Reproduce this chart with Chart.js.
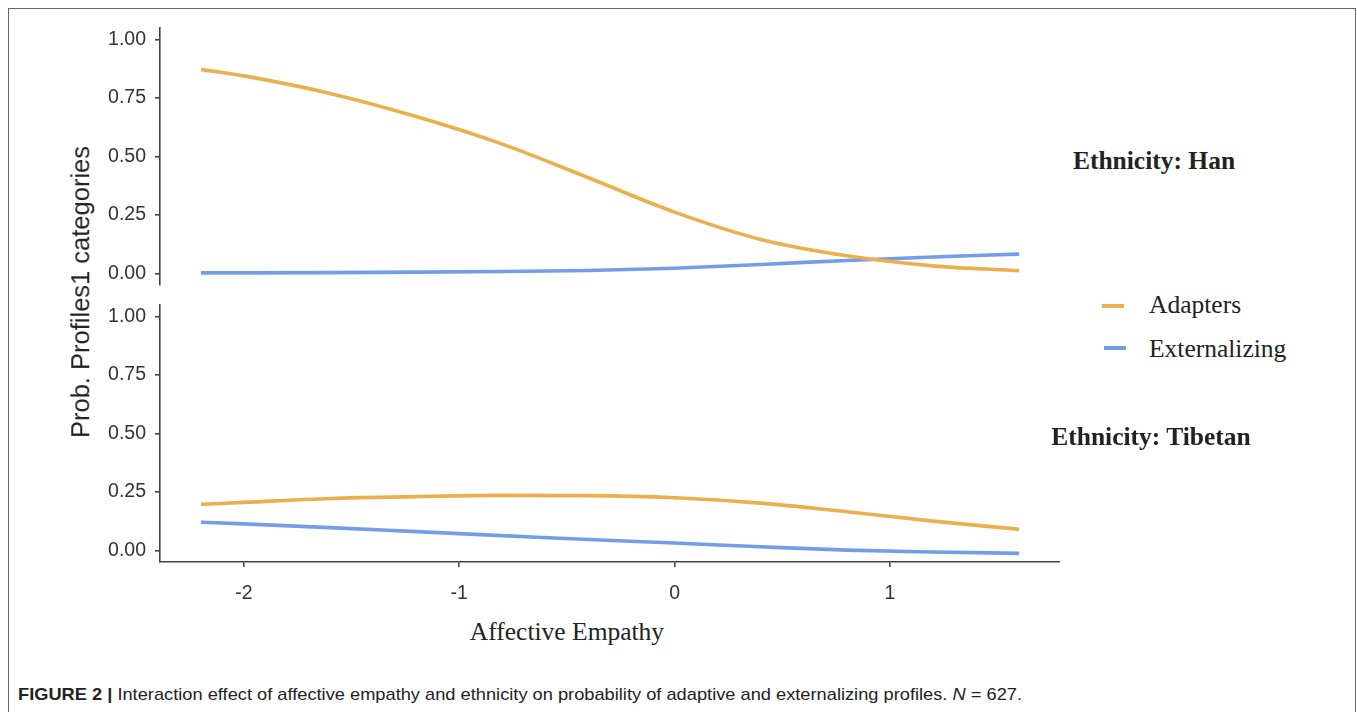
<!DOCTYPE html>
<html><head><meta charset="utf-8">
<script src="https://cdn.jsdelivr.net/npm/chart.js@4.4.0/dist/chart.umd.min.js"></script>
<style>
html,body{margin:0;padding:0;background:#fff;width:1357px;height:712px;overflow:hidden;position:relative;}
#frame{position:absolute;left:8px;top:8px;width:1348px;height:740px;border:1.5px solid #666;box-sizing:border-box;}
canvas{position:absolute;}
.t{position:absolute;white-space:nowrap;color:#222;line-height:1;transform:translate(-50%,-50%);}
.serif{font-family:"Liberation Serif","Times New Roman",serif;font-size:25.5px;}
.key{position:absolute;height:3.5px;width:22px;}
#caption{position:absolute;left:18px;top:686px;font-family:"Liberation Sans Narrow","Liberation Sans",Arial,sans-serif;font-size:17px;color:#222;white-space:nowrap;transform-origin:0 0;line-height:1.1;}
</style></head><body>
<div id="frame"></div>
<canvas id="topChart" width="1060" height="315" style="left:0;top:0"></canvas>
<canvas id="botChart" width="1060" height="327" style="left:0;top:275px"></canvas>
<div class="t" style="left:81px;top:292px;transform:translate(-50%,-50%) rotate(-90deg);font-family:'Liberation Sans',Arial,sans-serif;font-size:25.5px;">Prob. Profiles1 categories</div>
<div class="t serif" style="left:567px;top:632px;">Affective Empathy</div>
<div class="t serif" style="left:1154px;top:161px;font-weight:bold;">Ethnicity: Han</div>
<div class="t serif" style="left:1151px;top:437px;font-weight:bold;">Ethnicity: Tibetan</div>
<div id="k1" class="key" style="left:1102px;top:304px;"></div>
<div id="k2" class="key" style="left:1104px;top:346px;"></div>
<div class="serif" style="position:absolute;left:1149px;top:292px;line-height:1;color:#222;">Adapters</div>
<div class="serif" style="position:absolute;left:1149px;top:336px;line-height:1;color:#222;">Externalizing</div>
<div id="caption"><b>FIGURE 2 |</b> Interaction effect of affective empathy and ethnicity on probability of adaptive and externalizing profiles. <i>N</i> = 627.</div>
<script>
// ---- data ----
const xValues = [-2.2, -2.0, -1.6, -1.2, -0.8, -0.4, 0, 0.4, 0.8, 1.2, 1.6];
const hanAdapters = [0.873, 0.845, 0.770, 0.671, 0.553, 0.409, 0.262, 0.145, 0.075, 0.032, 0.011];
const hanExternalizing = [0.002, 0.002, 0.003, 0.005, 0.008, 0.012, 0.022, 0.038, 0.055, 0.070, 0.082];
const tibetanAdapters = [0.197, 0.205, 0.222, 0.230, 0.235, 0.234, 0.225, 0.202, 0.165, 0.125, 0.090];
const tibetanExternalizing = [0.120, 0.113, 0.097, 0.080, 0.063, 0.046, 0.031, 0.015, 0.001, -0.007, -0.013];
const seriesNames = ["Adapters", "Externalizing"];
const xTicks = [-2, -1, 0, 1];
const yTicks = [0, 0.25, 0.5, 0.75, 1];

const ORANGE = "#E9B04D";
const BLUE = "#739DE8";
const AXIS = "#444";
const TXT = "#333";
document.getElementById('k1').style.background = ORANGE;
document.getElementById('k2').style.background = BLUE;

const pts = ys => xValues.map((x, i) => ({x: x, y: ys[i]}));
const ds = (label, ys, color) => ({
  label, data: pts(ys), borderColor: color, backgroundColor: color,
  borderWidth: 3.6, pointRadius: 0, cubicInterpolationMode: 'monotone', fill: false, borderCapStyle: 'butt'
});
const tickFont = {family: "'Liberation Sans', Arial, sans-serif", size: 19.5};

function makeOpts(showX, padBottom) {
  return {
    responsive: false, animation: false, devicePixelRatio: 1,
    layout: {padding: {left: 0, top: showX ? 30 : 28, right: 0, bottom: padBottom}},
    plugins: {legend: {display: false}, tooltip: {enabled: false}},
    scales: {
      x: {
        type: 'linear', min: -2.39, max: 1.79, display: showX,
        afterBuildTicks: s => { s.ticks = xTicks.map(v => ({value: v})); },
        afterFit: s => { s.height = showX ? 40 : 0; },
        grid: {drawOnChartArea: false, drawTicks: true, tickLength: 5, color: AXIS, lineWidth: 1.6},
        border: {display: true, color: AXIS, width: 1.6},
        ticks: {font: tickFont, color: TXT, padding: 15, maxRotation: 0, callback: v => String(v)}
      },
      y: {
        type: 'linear', min: -0.05, max: 1.05,
        afterBuildTicks: s => { s.ticks = yTicks.map(v => ({value: v})); },
        afterFit: s => { s.width = 160; },
        grid: {drawOnChartArea: false, drawTicks: true, tickLength: 5, color: AXIS, lineWidth: 1.6},
        border: {display: true, color: AXIS, width: 1.6},
        ticks: {font: tickFont, color: TXT, padding: 9, callback: v => Number(v).toFixed(2)}
      }
    }
  };
}

new Chart(document.getElementById('topChart'), {
  type: 'line',
  data: {datasets: [ds(seriesNames[0], hanAdapters, ORANGE), ds(seriesNames[1], hanExternalizing, BLUE)]},
  options: makeOpts(false, 30)
});
new Chart(document.getElementById('botChart'), {
  type: 'line',
  data: {datasets: [ds(seriesNames[0], tibetanAdapters, ORANGE), ds(seriesNames[1], tibetanExternalizing, BLUE)]},
  options: makeOpts(true, 0)
});

// fit caption width to reference
const cap = document.getElementById('caption');
const w = cap.getBoundingClientRect().width;
cap.style.transform = 'scaleX(' + (1004 / w) + ')';
</script>
</body></html>
